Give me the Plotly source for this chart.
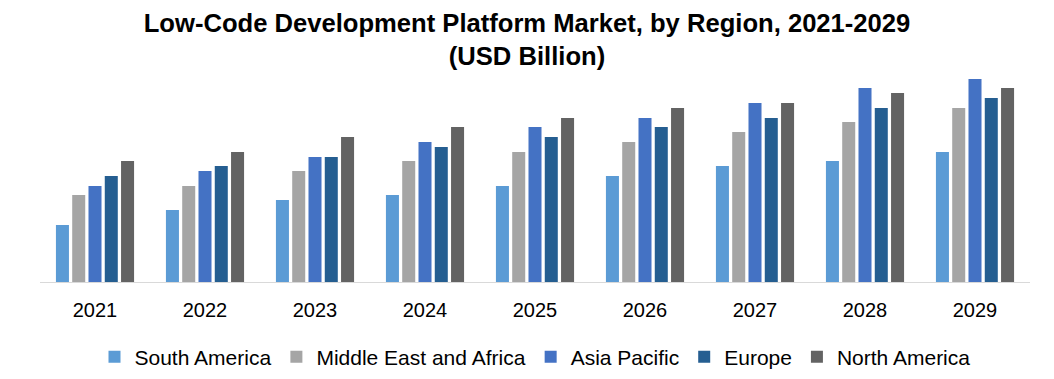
import plotly.graph_objects as go

years = ["2021", "2022", "2023", "2024", "2025", "2026", "2027", "2028", "2029"]
south_america = [5.7, 7.2, 8.2, 8.7, 9.6, 10.6, 11.6, 12.1, 13.0]
middle_east_africa = [8.7, 9.6, 11.1, 12.1, 13.0, 14.0, 15.0, 16.0, 17.4]
asia_pacific = [9.6, 11.1, 12.5, 14.0, 15.5, 16.4, 17.9, 19.4, 20.3]
europe = [10.6, 11.6, 12.5, 13.5, 14.5, 15.5, 16.4, 17.4, 18.4]
north_america = [12.1, 13.0, 14.5, 15.5, 16.4, 17.4, 17.9, 18.9, 19.4]

series = [
    ("South America", south_america, "#5B9BD5"),
    ("Middle East and Africa", middle_east_africa, "#A5A5A5"),
    ("Asia Pacific", asia_pacific, "#4472C4"),
    ("Europe", europe, "#255E91"),
    ("North America", north_america, "#636363"),
]

FONT = "Liberation Sans, Arial, sans-serif"

fig = go.Figure()
for name, vals, color in series:
    fig.add_trace(go.Bar(x=years, y=vals, name=name, marker=dict(color=color, line=dict(width=0))))

fig.update_layout(
    width=1054, height=379,
    margin=dict(l=40, r=24, t=72, b=97),
    paper_bgcolor="white", plot_bgcolor="white",
    barmode="group", bargap=0.26, bargroupgap=0.2,
    title=dict(
        text="<b>Low-Code Development Platform Market, by Region, 2021-2029<br>(USD Billion)</b>",
        x=0.5, xanchor="center", xref="container",
        y=0.916, yanchor="top", yref="container",
        font=dict(family=FONT, size=25.6, color="#000000"),
    ),
    font=dict(family=FONT, color="#000000"),
    xaxis=dict(
        showline=True, linecolor="#D9D9D9", linewidth=1,
        ticks="", ticklabelstandoff=10, tickfont=dict(size=20, color="#000000"),
        showgrid=False,
    ),
    yaxis=dict(range=[0, 21], visible=False, showgrid=False, zeroline=False),
    legend=dict(
        orientation="h", x=0.5, xanchor="center",
        y=0.058, yanchor="middle", yref="container",
        font=dict(size=21, color="#000000"),
        itemwidth=30, tracegroupgap=0,
    ),
    showlegend=True,
)

fig.write_html(
    "out.html",
    config={"displayModeBar": False},
    post_script="document.body.style.margin='0';document.body.style.padding='0';",
)
